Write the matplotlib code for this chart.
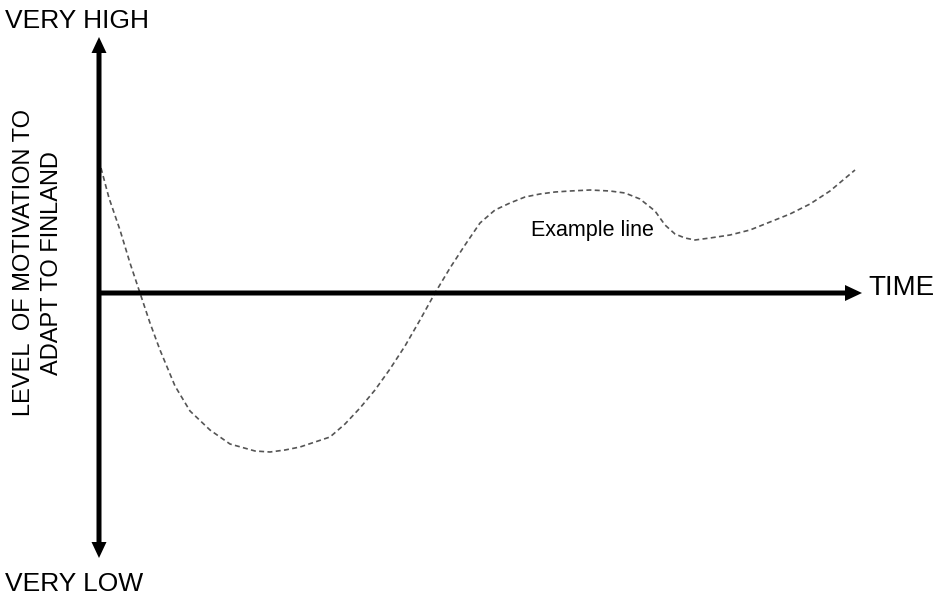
import numpy as np
import matplotlib
matplotlib.use("Agg")
import matplotlib.pyplot as plt

plt.rcParams['font.family'] = ['Liberation Sans', 'DejaVu Sans']

# time since arrival (arbitrary units) and motivation level (arbitrary, 0 = neutral)
time = [2, 10, 21, 31, 41, 51, 61, 76, 91, 111, 131, 156, 171, 186, 201, 216,
        231, 246, 261, 276, 291, 306, 321, 336, 351, 366, 381, 396, 411, 426,
        441, 456, 471, 491, 511, 526, 541, 556, 566, 576, 586, 596, 611, 631,
        651, 671, 691, 711, 731, 756]
level = [125, 95, 63, 30, 0, -30, -57, -93, -118, -137, -151, -158, -159, -157,
         -154, -149, -144, -131, -115, -97, -76, -53, -27, 0, 25, 48, 70, 83, 90,
         96, 99, 101, 102, 103, 102, 100, 94, 82, 68, 59, 55, 53, 55, 58, 63,
         71, 79, 89, 102, 123]

fig = plt.figure(figsize=(9.42, 5.95), dpi=100)
ax = fig.add_axes([0, 0, 1, 1])
ax.set_xlim(-99, 843)
ax.set_ylim(-302, 293)
ax.axis('off')

# axes as filled arrows (data units ~ pixels here)
ax.arrow(0, 0, 0, 256, width=5, head_width=15, head_length=16,
         length_includes_head=True, fc='black', ec='none', zorder=3)
ax.arrow(0, 0, 0, -265, width=5, head_width=15, head_length=16,
         length_includes_head=True, fc='black', ec='none', zorder=3)
ax.arrow(0, 0, 763, 0, width=5, head_width=16, head_length=17,
         length_includes_head=True, fc='black', ec='none', zorder=3)

ax.plot(time, level, ls=(0, (3, 2)), color='#555555', lw=1.2)

ax.text(-94, 272, 'VERY HIGH', fontsize=19, ha='left', va='center')
ax.text(-94, -291, 'VERY LOW', fontsize=19, ha='left', va='center')
ax.text(769, 5, 'TIME', fontsize=20, ha='left', va='center')
ax.text(-61, 30, 'LEVEL  OF MOTIVATION TO\nADAPT TO FINLAND', fontsize=17,
        rotation=90, ha='center', va='center', multialignment='center',
        linespacing=1.4)
ax.text(493, 62, 'Example line', fontsize=15.5, ha='center', va='center')

fig.savefig('out.png', dpi=100)
